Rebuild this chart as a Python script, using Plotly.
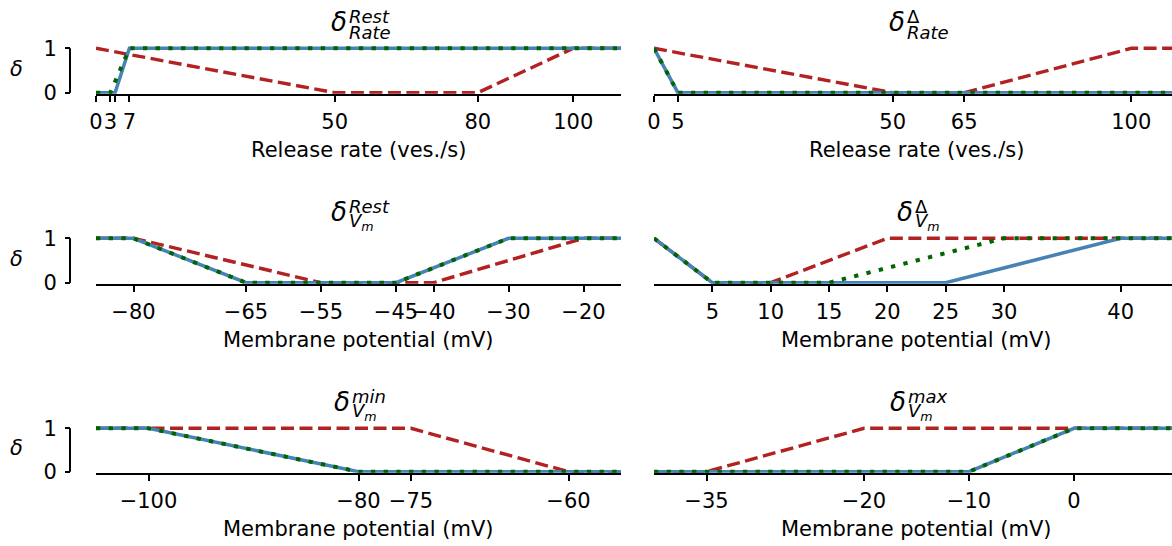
import plotly.graph_objects as go

W, H = 1172, 546

# ---------------- data ----------------
# Panel 1: delta Rate Rest
p1_red_x = [0, 50, 80, 100, 110]
p1_red_y = [1, 0, 0, 1, 1]
p1_blue_x = [0, 4, 7, 110]
p1_blue_y = [0, 0, 1, 1]
p1_green_x = [0, 3, 7, 110]
p1_green_y = [0, 0, 1, 1]
p1_ticks = [0, 3, 4, 7, 50, 80, 100]
p1_ticktext = ["0", "3", "", "7", "50", "80", "100"]

# Panel 2: delta Rate Delta
p2_red_x = [0, 50, 65, 100, 110]
p2_red_y = [1, 0, 0, 1, 1]
p2_blue_x = [0, 5, 110]
p2_blue_y = [1, 0, 0]
p2_green_x = [0, 5, 110]
p2_green_y = [1, 0, 0]
p2_ticks = [0, 5, 50, 65, 100]
p2_ticktext = ["0", "5", "50", "65", "100"]

# Panel 3: delta Vm Rest
p3_red_x = [-85, -80, -55, -40, -20, -15]
p3_red_y = [1, 1, 0, 0, 1, 1]
p3_blue_x = [-85, -80, -65, -45, -30, -15]
p3_blue_y = [1, 1, 0, 0, 1, 1]
p3_green_x = [-85, -80, -65, -45, -30, -15]
p3_green_y = [1, 1, 0, 0, 1, 1]
p3_ticks = [-80, -65, -55, -45, -40, -30, -20]
p3_ticktext = ["\u221280", "\u221265", "\u221255", "\u221245", "\u221240", "\u221230", "\u221220"]

# Panel 4: delta Vm Delta
p4_red_x = [0, 5, 10, 20, 45]
p4_red_y = [1, 0, 0, 1, 1]
p4_blue_x = [0, 5, 25, 40, 45]
p4_blue_y = [1, 0, 0, 1, 1]
p4_green_x = [0, 5, 15, 30, 45]
p4_green_y = [1, 0, 0, 1, 1]
p4_ticks = [5, 10, 15, 20, 25, 30, 40]
p4_ticktext = ["5", "10", "15", "20", "25", "30", "40"]

# Panel 5: delta Vm min
p5_red_x = [-105, -75, -60, -55]
p5_red_y = [1, 1, 0, 0]
p5_blue_x = [-105, -100, -80, -55]
p5_blue_y = [1, 1, 0, 0]
p5_green_x = [-105, -100, -80, -55]
p5_green_y = [1, 1, 0, 0]
p5_ticks = [-100, -80, -75, -60]
p5_ticktext = ["\u2212100", "\u221280", "\u221275", "\u221260"]

# Panel 6: delta Vm max
p6_red_x = [-40, -35, -20, 10]
p6_red_y = [0, 0, 1, 1]
p6_blue_x = [-40, -10, 0, 10]
p6_blue_y = [0, 0, 1, 1]
p6_green_x = [-40, -10, 0, 10]
p6_green_y = [0, 0, 1, 1]
p6_ticks = [-35, -20, -10, 0]
p6_ticktext = ["\u221235", "\u221220", "\u221210", "0"]

x_ranges = [(0, 110), (0, 110), (-85, -15), (0, 45), (-105, -55), (-40, 10)]
x_titles = ["Release rate (ves./s)", "Release rate (ves./s)",
            "Membrane potential (mV)", "Membrane potential (mV)",
            "Membrane potential (mV)", "Membrane potential (mV)"]
title_sup = ["<i>Rest</i>", "\u0394", "<i>Rest</i>", "\u0394", "<i>min</i>", "<i>max</i>"]
title_sub = ["<i>Rate</i>", "<i>Rate</i>", "<i>V</i><sub><i>m</i></sub>",
             "<i>V</i><sub><i>m</i></sub>", "<i>V</i><sub><i>m</i></sub>",
             "<i>V</i><sub><i>m</i></sub>"]
script_w = [40, 40, 40, 24, 34, 38]

panels = [
    (p1_red_x, p1_red_y, p1_blue_x, p1_blue_y, p1_green_x, p1_green_y, p1_ticks, p1_ticktext),
    (p2_red_x, p2_red_y, p2_blue_x, p2_blue_y, p2_green_x, p2_green_y, p2_ticks, p2_ticktext),
    (p3_red_x, p3_red_y, p3_blue_x, p3_blue_y, p3_green_x, p3_green_y, p3_ticks, p3_ticktext),
    (p4_red_x, p4_red_y, p4_blue_x, p4_blue_y, p4_green_x, p4_green_y, p4_ticks, p4_ticktext),
    (p5_red_x, p5_red_y, p5_blue_x, p5_blue_y, p5_green_x, p5_green_y, p5_ticks, p5_ticktext),
    (p6_red_x, p6_red_y, p6_blue_x, p6_blue_y, p6_green_x, p6_green_y, p6_ticks, p6_ticktext),
]

# ---------------- styling / geometry ----------------
FONT = "DejaVu Sans"
RED, BLUE, GREEN = "#B22222", "#4682B4", "#006400"
LEFT_PX = (96, 621)
RIGHT_PX = (654, 1179)          # right column extends past the figure edge
ROWS = [(92.7, 48.3), (282.7, 238.3), (471.7, 428.3)]  # (pixel of y=0, pixel of y=1)
YLO, YHI = -0.025, 1.06
SPINE_X = 70

fig = go.Figure()
layout = dict(width=W, height=H, margin=dict(l=0, r=0, t=0, b=0, pad=0, autoexpand=False),
              paper_bgcolor="white", plot_bgcolor="white", showlegend=False,
              font=dict(family=FONT, size=21, color="black"))
annotations = []
shapes = []

def px_x(p):
    return p / W

def px_y(p):
    return 1 - p / H

for i, pdata in enumerate(panels):
    n = i + 1
    row, col = i // 2, i % 2
    rx, ry, bx, by, gx, gy, tv, tt = pdata
    xa = "x" if n == 1 else f"x{n}"
    ya = "y" if n == 1 else f"y{n}"
    xkey = "xaxis" if n == 1 else f"xaxis{n}"
    ykey = "yaxis" if n == 1 else f"yaxis{n}"

    fig.add_trace(go.Scatter(x=rx, y=ry, mode="lines", xaxis=xa, yaxis=ya,
                             line=dict(color=RED, width=3.4, dash="13px,5.5px")))
    fig.add_trace(go.Scatter(x=bx, y=by, mode="lines", xaxis=xa, yaxis=ya,
                             line=dict(color=BLUE, width=3.5)))
    fig.add_trace(go.Scatter(x=gx, y=gy, mode="lines", xaxis=xa, yaxis=ya,
                             line=dict(color=GREEN, width=4, dash="4.3px,8.4px")))

    dpx = LEFT_PX if col == 0 else RIGHT_PX
    lo, hi = x_ranges[i]
    vis_right = min(dpx[1], W)
    hi_vis = lo + (hi - lo) * (vis_right - dpx[0]) / (dpx[1] - dpx[0])
    y0p, y1p = ROWS[row]
    sc = y0p - y1p
    bot_px = y0p - YLO * sc
    top_px = y1p - (YHI - 1) * sc

    layout[xkey] = dict(domain=[px_x(dpx[0]), px_x(vis_right)], range=[lo, hi_vis],
                        anchor=ya, showline=True, linecolor="black", linewidth=2,
                        ticks="outside", ticklen=6, tickwidth=2, tickcolor="black",
                        tickvals=tv, ticktext=tt, showgrid=False, zeroline=False,
                        tickangle=0, automargin=False,
                        tickfont=dict(family=FONT, size=21, color="black"),
                        ticklabelstandoff=2)
    ydict = dict(domain=[px_y(bot_px), px_y(top_px)], range=[YLO, YHI],
                 showgrid=False, zeroline=False, showline=False, automargin=False)
    if col == 0:
        ydict.update(anchor="free", position=px_x(SPINE_X), ticks="outside", ticklen=5,
                     tickwidth=2, tickcolor="black", tickvals=[0, 1], ticktext=["0", "1"],
                     tickfont=dict(family=FONT, size=21, color="black"),
                     ticklabelstandoff=4)
        shapes.append(dict(type="line", xref="paper", yref=ya, x0=px_x(SPINE_X),
                           x1=px_x(SPINE_X), y0=0, y1=1,
                           line=dict(color="black", width=2)))
        annotations.append(dict(text="<i>\u03b4</i>", x=px_x(16), y=px_y(y0p - 24),
                                xref="paper", yref="paper", showarrow=False,
                                xanchor="center", yanchor="middle",
                                font=dict(family=FONT, size=21, color="black")))
    else:
        ydict.update(anchor=xa, visible=False)
    layout[ykey] = ydict

    # panel centre (full axes, even where cropped)
    cx = (dpx[0] + dpx[1]) / 2
    # x-axis title
    annotations.append(dict(text=x_titles[i], x=px_x(cx), y=px_y(y0p + 57.5),
                            xref="paper", yref="paper", showarrow=False,
                            xanchor="center", yanchor="middle",
                            font=dict(family=FONT, size=21, color="black")))
    # title: delta with stacked sub/superscript
    split = cx - (script_w[i] - 19) / 2
    annotations.append(dict(text="<i>\u03b4</i>", x=px_x(split + 1), y=px_y(y1p - 26),
                            xref="paper", yref="paper", showarrow=False,
                            xanchor="right", yanchor="middle",
                            font=dict(family=FONT, size=26, color="black")))
    annotations.append(dict(text=title_sup[i], x=px_x(split - 1), y=px_y(y1p - 32),
                            xref="paper", yref="paper", showarrow=False,
                            xanchor="left", yanchor="middle",
                            font=dict(family=FONT, size=18, color="black")))
    annotations.append(dict(text=title_sub[i], x=px_x(split - 1), y=px_y(y1p - 16),
                            xref="paper", yref="paper", showarrow=False,
                            xanchor="left", yanchor="middle",
                            font=dict(family=FONT, size=18, color="black")))

layout["annotations"] = annotations
layout["shapes"] = shapes
fig.update_layout(**layout)
fig.write_html("out.html")
